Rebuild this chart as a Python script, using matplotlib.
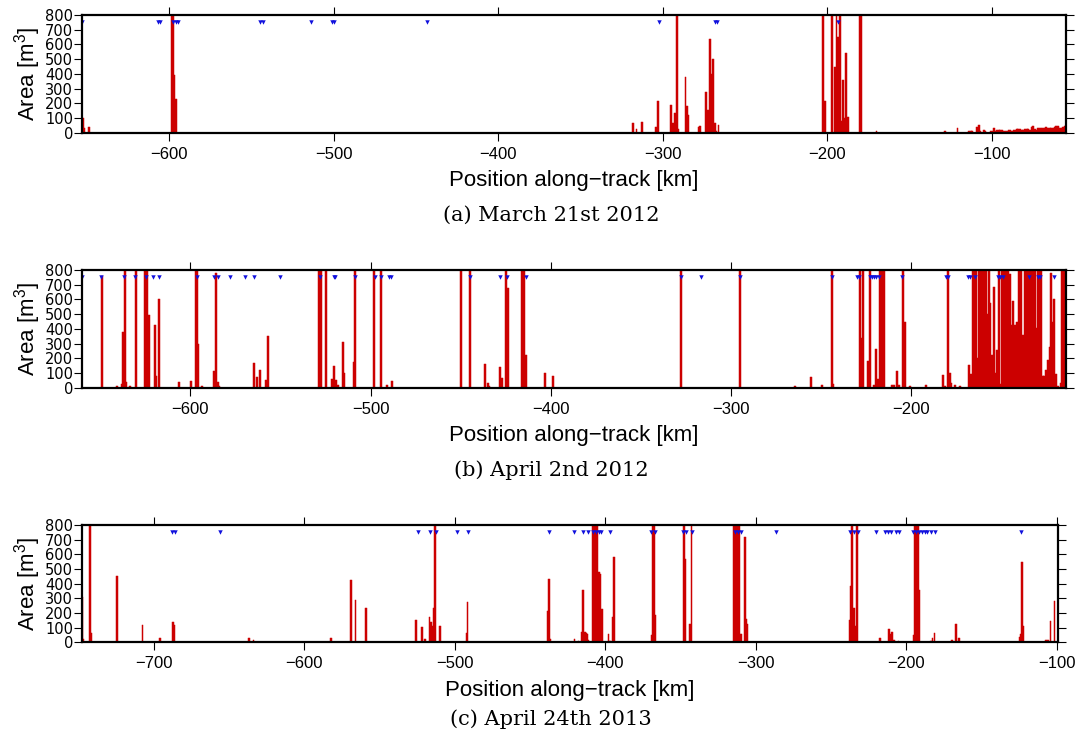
import matplotlib
matplotlib.use("Agg")
import matplotlib.pyplot as plt

plt.rcParams['font.family'] = ['Liberation Sans', 'DejaVu Sans']
plt.rcParams['mathtext.fontset'] = 'custom'
plt.rcParams['mathtext.rm'] = 'Liberation Sans'
plt.rcParams['mathtext.it'] = 'Liberation Sans:italic'

BAR_COLOR = '#cc0000'
MARK_COLOR = '#1010dd'
CLIP = 1000  # values above the 800 axis limit

# ---------------- Panel (a) March 21st 2012 ----------------
p1_pos = [-652.5, -651.7, -648.5,
          -598.4, -597.5, -596.7, -595.8,
          -318, -316, -312.5, -304, -303, -295, -294, -292.5, -291.5, -290.5,
          -286.2, -285.2, -284.5, -278.3, -277.2, -273.6, -272.6, -271.3, -270.4,
          -269.4, -268.4, -267.5, -266.2,
          -202.5, -201.6, -197.3, -195.5, -194.5, -193.4, -192.4, -191.3, -190.5,
          -189.5, -188.7, -187.6, -180.3, -179.3, -170.2, -128.4, -121,
          -114, -113, -112, -109, -108, -107, -105, -104, -101, -100, -99, -98,
          -97, -96, -95, -94, -93, -92, -91, -90, -89, -88, -87, -86, -85, -84,
          -83, -82, -81, -80, -79, -78, -77, -76, -75, -74, -73, -72, -71, -70,
          -69, -68, -67, -66, -65, -64, -63, -62, -61, -60, -59, -58, -57, -56, -55]
p1_val = [102, 34, 41,
          CLIP, CLIP, 392, 229,
          66, 25, 72, 38, 215, 188, 66, 134, CLIP, 25,
          378, 181, 120, 38, 45, 276, 154, 637, 399,
          501, 66, 11, 52,
          CLIP, 215, CLIP, 446, CLIP, 650, CLIP, 79, 358,
          100, 541, 106, CLIP, CLIP, 11, 11, 32,
          11, 11, 11, 38, 52, 11, 18, 11, 11, 11, 32, 11,
          18, 18, 18, 18, 11, 11, 11, 18, 18, 11, 18, 18, 25, 25,
          25, 18, 18, 25, 25, 25, 18, 38, 45, 25, 18, 32, 32, 32,
          32, 32, 38, 32, 32, 34, 34, 38, 45, 45, 34, 34, 40, 45, 45]
p1_marks = [-653, -606.9, -605.5, -597.5, -596, -594.5, -545, -543.1, -514,
            -501, -499.6, -443, -302.1, -268.5, -267.2, -193.8]

# ---------------- Panel (b) April 2nd 2012 ----------------
p2_pos = [-649, -640.5, -637.8, -637.2, -636.4, -635.6, -633.4, -630.2,
          -625, -624, -622.8, -619.8, -619, -617.5, -606.3, -599.6,
          -597.1, -596.3, -595.5, -593.6, -586.7, -585.9, -584.8, -584,
          -564.5, -562.8, -561.2, -557.9, -557.1,
          -528.6, -527.4, -524.5, -521.5, -520.5, -519.7, -518.9, -518.2,
          -515.2, -514.5, -509.2, -508.4, -498.2, -494.4, -490.6, -487.9,
          -449.7, -444.7, -436.4, -434.7, -434, -428, -427.3, -424.6, -423.6,
          -415.8, -414.8, -413.7, -403.2, -398.6,
          -327.5, -295.1, -264.6, -255.8, -249.6, -244.1, -243.1,
          -228.6, -227.6, -226.7, -223.8, -222.6, -220.5, -219.4, -218.5, -218,
          -217.2, -216.1, -215.1, -210.6, -209.6, -207.6, -206.6, -204.3, -203.4,
          -200.6, -191.6, -182.4, -181.5, -179.4, -178.5, -178, -175.7, -172.9,
          -167.9, -166.8, -165.8, -164.8, -163.8, -163, -162.2, -161.2, -160.2,
          -159.2, -158.2, -157.4, -156.8, -156, -155, -154, -153.4, -152.9,
          -152.2, -151.4, -150.5, -149.4, -148.4, -147.4, -146.4, -145.4,
          -144.6, -143.6, -142.5, -141.4, -140.3, -139.3, -138.6, -137.7,
          -136.7, -135.7, -134.7, -134, -133.3, -132.3, -131.3, -130.5, -129.8,
          -128.8, -127.8, -126.8, -126.2, -125.4, -124.3, -123.2, -122.4,
          -121.5, -120.8, -119.8, -118.7, -117.0, -116.1, -115.0]
p2_val = [760, 11, 25, 378, CLIP, 39, 11, CLIP,
          CLIP, CLIP, 494, 426, 79, 605, 39, 45,
          CLIP, CLIP, 297, 11, 113, 780, 39, 11,
          168, 73, 120, 52, 351,
          CLIP, CLIP, CLIP, 59, 147, 11, 52, 18,
          310, 100, 174, CLIP, CLIP, CLIP, 18, 45,
          CLIP, CLIP, 161, 32, 11, 140, 66, CLIP, 678,
          CLIP, CLIP, 222, 100, 79,
          CLIP, CLIP, 11, 73, 18, CLIP, 23,
          CLIP, 337, CLIP, 180, CLIP, 16, 262, 57, 36,
          CLIP, CLIP, CLIP, 16, 16, 112, 16, CLIP, 447,
          9, 16, 84, 9, CLIP, 98, 30, 16, 9,
          153, 91, CLIP, CLIP, CLIP, 201, CLIP, CLIP, CLIP,
          CLIP, CLIP, 502, CLIP, 577, 221, 686, 98, 91,
          255, CLIP, 23, CLIP, CLIP, CLIP, CLIP, 775,
          426, 590, 426, 447, CLIP, CLIP, 64, 358,
          CLIP, CLIP, CLIP, 43, CLIP, CLIP, CLIP, 406, CLIP,
          CLIP, CLIP, 77, 77, 118, 187, 276, 782,
          447, 600, 90, 10, 30, CLIP, CLIP]
p2_marks = [-660, -649.5, -636.6, -630.8, -624.4, -620.5, -617.5, -596.5,
            -586.7, -584.9, -577.8, -569.9, -564.9, -550, -528.1, -520.4,
            -519.7, -508.6, -497.7, -494.1, -489.9, -488.4, -444.8, -427.9,
            -424.4, -413.7, -327.8, -316.5, -295, -244.1, -229.9, -229,
            -222.9, -221.6, -220.7, -219.3, -217.9, -205, -180.6, -179.7,
            -168.6, -167.5, -164.7, -152, -150.6, -149.2, -134.4, -129.8,
            -128.3, -120.6]

# ---------------- Panel (c) April 24th 2013 ----------------
p3_pos = [-747.7, -747, -742.5, -741.5, -724.4, -707.5, -696.1, -687.5,
          -686.6, -637, -633.9, -582.5, -568.9, -566.1, -558.9,
          -525.8, -522, -519.7, -516.9, -516, -515.1, -514.2, -513.2, -509.7,
          -492.3, -491.5,
          -438.1, -437.4, -436.5, -420.4, -417.8, -415.4, -414.7, -413.5,
          -412.9, -412.2, -411.4, -408.2, -407.2, -406.2, -405.2, -404.1,
          -403.1, -402.1, -397.8, -396.8, -394.8, -394.1,
          -369.2, -368.4, -367.5, -366.8, -347.6, -346.8, -343.5, -342.6,
          -314.4, -313.3, -312.2, -311.1, -310.1, -309.4, -307.1, -306.4, -305.5,
          -237.3, -236.6, -235.8, -234.8, -234.0, -233.2, -232.5,
          -217.3, -211.3, -210.5, -209.2, -208, -205,
          -194.6, -193.9, -192.9, -192.0, -191.3, -183.3, -182.5, -181.2,
          -169.4, -166.8, -164.8, -124.3, -123.6, -122.9, -122.2,
          -106.8, -105.6, -104, -101.3]
p3_val = [307, 23, CLIP, 64, 452, 118, 30, 139,
          118, 30, 16, 30, 425, 289, 234,
          152, 105, 23, 173, 139, 111, 234, CLIP, 111,
          64, 275,
          216, 430, 23, 23, 9, 71, 354, 71,
          64, 57, 16, CLIP, CLIP, CLIP, CLIP, 478,
          465, 230, 57, 9, 175, 582,
          51, CLIP, CLIP, 189, CLIP, 568, 127, CLIP,
          CLIP, CLIP, CLIP, CLIP, 57, 57, 720, 161, 127,
          154, 382, CLIP, 237, 9, 113, CLIP,
          30, 92, 57, 71, 16, 9,
          51, CLIP, CLIP, CLIP, 354, 9, 30, 64,
          16, 127, 30, 37, 57, 547, 113,
          16, 16, 145, 282]
p3_marks = [-687.9, -686.1, -656.3, -524.7, -516.5, -512.6, -498.2, -491.3,
            -437.7, -420.6, -414.6, -411.3, -408, -406, -404, -402.5, -396.9,
            -369.4, -367.2, -348.1, -346.1, -342.6, -314, -312, -310, -286.3,
            -237.2, -234.6, -232.1, -219.9, -214, -212, -210.2, -206.9, -204.7,
            -195.6, -193.5, -191.5, -189.5, -187.5, -185.8, -183.6, -181,
            -123.4]

W, H = 1080, 742
panels = [
    dict(pos=p1_pos, val=p1_val, marks=p1_marks, xlim=(-652.9, -55.2),
         box=(82, 15, 1065.8, 132.7), caption='(a) March 21st 2012', cap_y=215),
    dict(pos=p2_pos, val=p2_val, marks=p2_marks, xlim=(-660.1, -114.2),
         box=(82, 270, 1065.8, 387.7), caption='(b) April 2nd 2012', cap_y=470),
    dict(pos=p3_pos, val=p3_val, marks=p3_marks, xlim=(-747.8, -99.3),
         box=(82, 525, 1057.6, 642.3), caption='(c) April 24th 2013', cap_y=719),
]

fig = plt.figure(figsize=(W / 100, H / 100), dpi=100)
yticks = list(range(0, 801, 100))

for p in panels:
    x0, y0, x1, y1 = p['box']
    ax = fig.add_axes([x0 / W, 1 - y1 / H, (x1 - x0) / W, (y1 - y0) / H])
    ax.bar(p['pos'], p['val'], width=1.1, color=BAR_COLOR,
           edgecolor=BAR_COLOR, linewidth=0.35, align='center')
    ax.plot(p['marks'], [750] * len(p['marks']), linestyle='none', marker='v',
            markersize=3.2, color=MARK_COLOR, markeredgewidth=0)
    ax.set_xlim(*p['xlim'])
    ax.set_ylim(0, 800)
    ax.set_yticks(yticks)
    ax.set_xticks([x for x in range(-700, 0, 100)
                   if p['xlim'][0] <= x <= p['xlim'][1]])
    for s in ax.spines.values():
        s.set_linewidth(1.6)
        s.set_zorder(5)
    ax.tick_params(axis='both', which='major', direction='out', length=5.5,
                   width=0.8, top=True, right=True, bottom=True, left=True,
                   labeltop=False, labelright=False)
    ax.tick_params(axis='x', labelsize=12, pad=4.5)
    ax.tick_params(axis='y', labelsize=10.5, pad=1)
    for lab in ax.get_yticklabels():
        lab.set_fontfamily(['DejaVu Sans'])
    ax.set_xlabel('Position along\u2212track [km]', fontsize=16, labelpad=6)
    ax.set_ylabel('Area [m$^{3}$]', fontsize=16, labelpad=1)
    fig.text(551 / W, 1 - p['cap_y'] / H, p['caption'], ha='center',
             va='center', fontsize=15, family=['DejaVu Serif'])

fig.savefig('out.png', dpi=100)
